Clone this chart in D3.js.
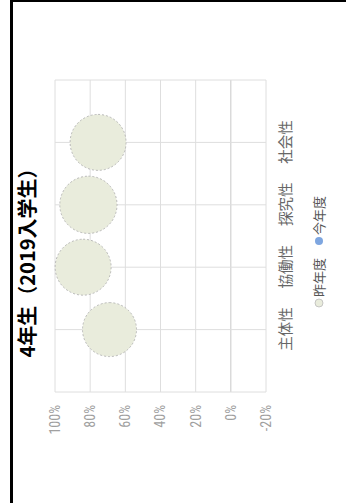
<!DOCTYPE html>
<html><head><meta charset="utf-8">
<script src="https://cdn.jsdelivr.net/npm/d3@7"></script>
<style>html,body{margin:0;padding:0;background:#fff;overflow:hidden}</style>
</head><body>
<svg id="c" width="346" height="503"></svg>
<script>
const title = "4年生（2019入学生）";
const categories = ["主体性", "協働性", "探究性", "社会性"];
const lastYearValues = [69, 84, 81, 75.5];
const lastYearSizes = [81, 87, 91, 87];
const thisYearValues = [];
const valueTicks = [-20, 0, 20, 40, 60, 80, 100];
const legendLabels = ["昨年度", "今年度"];

const svg = d3.select("#c");
// frame
svg.append("rect").attr("x", 11.5).attr("y", 0.5).attr("width", 400).attr("height", 600)
  .attr("fill", "none").attr("stroke", "#000").attr("stroke-width", 3);

// chart drawn unrotated in a 503x346 frame, then rotated -90deg
const g = svg.append("g").attr("transform", "translate(0,503) rotate(-90)");
const L = 111, R = 423, T = 55, B = 266;

const x = d3.scalePoint().domain(categories).range([L, R]).padding(1);
const y = d3.scaleLinear().domain([-20, 100]).range([B, T]);
const r = d3.scaleSqrt().domain([0, 100]).range([0, 30]);

// grid
const grid = g.append("g");
grid.selectAll("line.h").data(valueTicks).join("line")
  .attr("x1", L).attr("x2", R).attr("y1", d => y(d)).attr("y2", d => y(d))
  .attr("stroke", d => d === 0 ? "#c8c8c8" : "#dedede").attr("stroke-width", 1);
grid.selectAll("line.v").data([L, ...categories.map(c => x(c)), R]).join("line")
  .attr("x1", d => d).attr("x2", d => d).attr("y1", T).attr("y2", B)
  .attr("stroke", "#dedede").attr("stroke-width", 1);

// y axis labels
const yAxis = d3.axisLeft(y).tickValues(valueTicks).tickFormat(d => d + "%").tickSize(0).tickPadding(13);
const ya = g.append("g").attr("transform", `translate(${L},0)`).call(yAxis);
ya.select(".domain").remove();
ya.selectAll("text").attr("font-family", "'Liberation Sans Narrow', 'Roboto Condensed', sans-serif").attr("font-size", 14).attr("fill", "#a0a0a0");

// x axis labels
const xAxis = d3.axisBottom(x).tickSize(0).tickPadding(15);
const xa = g.append("g").attr("transform", `translate(0,${B})`).call(xAxis);
xa.select(".domain").remove();
xa.selectAll("text").attr("font-family", "'Noto Sans CJK JP', sans-serif").attr("font-size", 14.5).attr("fill", "#666");

// bubbles
g.append("g").selectAll("circle").data(categories.map((c, i) => ({c, v: lastYearValues[i], s: lastYearSizes[i]})))
  .join("circle")
  .attr("cx", d => x(d.c)).attr("cy", d => y(d.v)).attr("r", d => r(d.s))
  .attr("fill", "#e9ecdc").attr("stroke", "#aaa").attr("stroke-width", 0.8).attr("stroke-dasharray", "2,2");
g.append("g").selectAll("circle").data(thisYearValues.map((v, i) => ({c: categories[i], v})))
  .join("circle").attr("cx", d => x(d.c)).attr("cy", d => y(d.v)).attr("r", 6).attr("fill", "#7ea6e0");

// title
g.append("text").attr("x", 245).attr("y", 35).attr("text-anchor", "middle")
  .attr("font-family", "'Noto Sans CJK JP', sans-serif").attr("font-weight", "bold").attr("font-size", 20)
  .attr("fill", "#000").text(title);

// legend
const legColors = ["#e9ecdc", "#7ea6e0"];
const legStroke = ["#bbb", "none"];
const legX = [200, 262];
const lg = g.append("g").attr("transform", "translate(0,319)");
legendLabels.forEach((lab, i) => {
  lg.append("circle").attr("cx", legX[i]).attr("cy", 0).attr("r", 4)
    .attr("fill", legColors[i]).attr("stroke", legStroke[i]).attr("stroke-width", 0.8);
  lg.append("text").attr("x", legX[i] + 6).attr("y", 0).attr("dy", "0.35em")
    .attr("font-family", "'Noto Sans CJK JP', sans-serif").attr("font-size", 13).attr("fill", "#555").text(lab);
});
</script>
</body></html>
